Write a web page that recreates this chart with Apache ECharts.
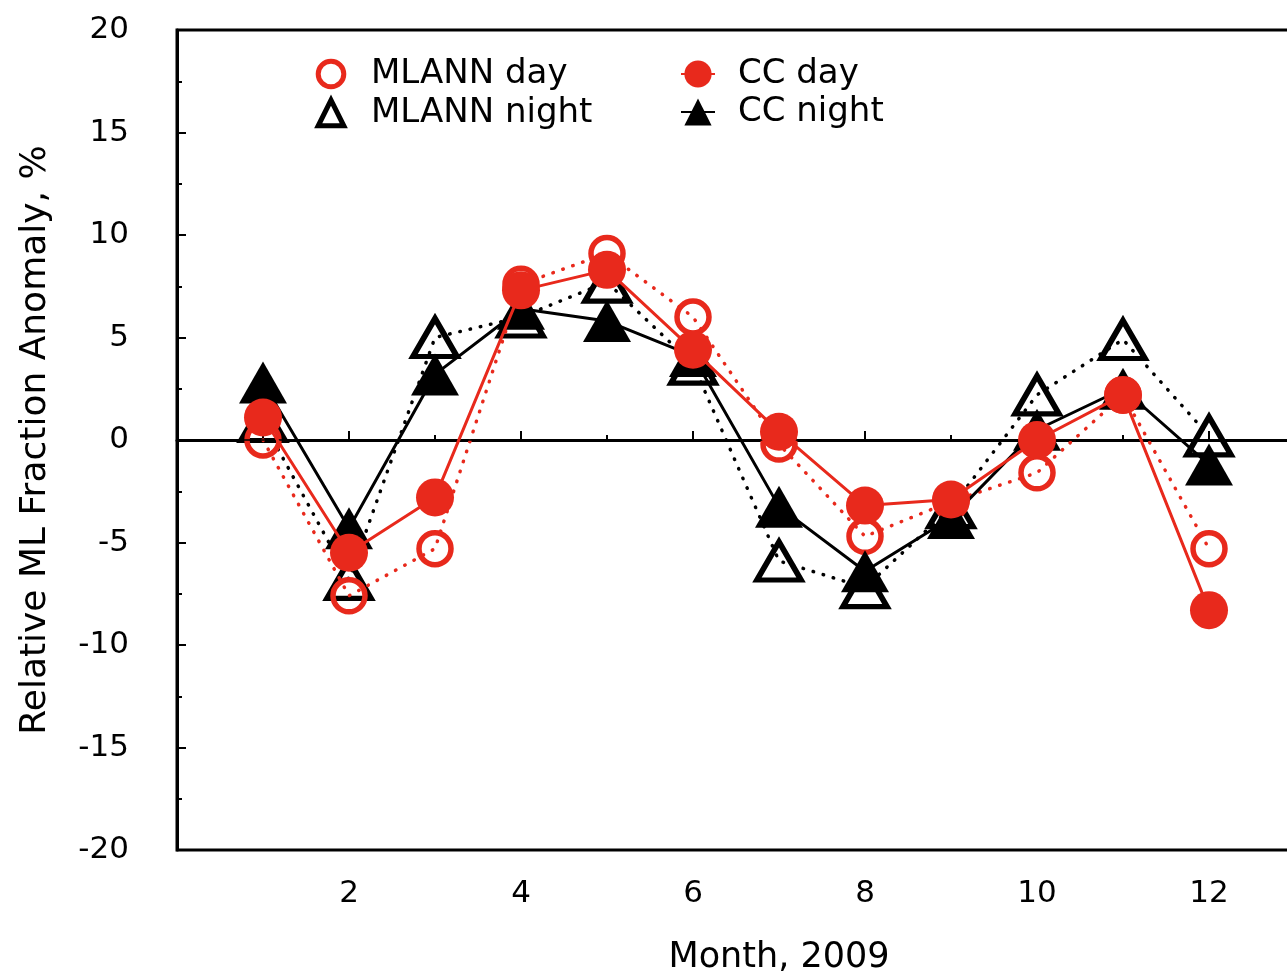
<!DOCTYPE html>
<html>
<head>
<meta charset="utf-8">
<script src="https://cdn.jsdelivr.net/npm/echarts@6/dist/echarts.min.js"></script>
<style>
  html, body { margin: 0; padding: 0; background: #fff; overflow: hidden; }
  #main { width: 1400px; height: 980px; }
</style>
</head>
<body>
<div id="main"></div>
<script>
var months = [1, 2, 3, 4, 5, 6, 7, 8, 9, 10, 11, 12];
var mlannDay = [0.0, -7.6, -5.3, 7.6, 9.1, 6.0, -0.2, -4.7, -3.0, -1.6, 2.2, -5.3];
var ccDay = [1.1, -5.5, -2.8, 7.3, 8.3, 4.4, 0.4, -3.2, -2.9, 0.0, 2.2, -8.3];
var mlannNight = [0.9, -6.8, 5.0, 6.0, 7.7, 3.7, -5.9, -7.2, -3.3, 2.2, 4.9, 0.2];
var ccNight = [2.8, -4.3, 3.2, 6.4, 5.8, 4.1, -3.25, -6.4, -3.8, 0.5, 2.5, -1.2];

var RED = '#e8291c';
var FONT = 'DejaVu Sans';

function pairs(vals) {
    return months.map(function (m, i) { return [m, vals[i]]; });
}

// 基于准备好的dom，初始化echarts实例
var myChart = echarts.init(document.getElementById('main'));

var dotted = { width: 3.5, type: [0.5, 10], cap: 'round' };

var option = {
    backgroundColor: '#fff',
    animation: false,
    textStyle: { fontFamily: FONT, color: '#000' },
    // plot area runs past the right edge of the 1287px window, like the cropped original
    grid: {
        left: 177, top: 30, bottom: 127, right: 19,
        show: true, borderColor: '#000', borderWidth: 3, backgroundColor: 'transparent'
    },
    legend: [
        {
            left: 295, top: 57, orient: 'vertical', padding: 0,
            itemWidth: 70, itemHeight: 32, itemGap: 5,
            textStyle: { fontFamily: FONT, fontSize: 34, color: '#000', lineHeight: 34 },
            itemStyle: { borderWidth: 5 },
            data: [
                { name: 'MLANN day', lineStyle: { opacity: 0 } },
                { name: 'MLANN night', lineStyle: { opacity: 0 } }
            ]
        },
        {
            left: 680, top: 57, orient: 'vertical', padding: 0,
            itemWidth: 34, itemHeight: 34, itemGap: 4,
            textStyle: { fontFamily: FONT, fontSize: 34, color: '#000', lineHeight: 34, padding: [0, 0, 0, 18] },
            data: ['CC day', 'CC night']
        }
    ],
    xAxis: {
        type: 'value', min: 0, max: 14, interval: 2,
        name: 'Month, 2009', nameLocation: 'middle', nameGap: 90,
        nameTextStyle: { fontFamily: FONT, fontSize: 35, color: '#000' },
        axisLine: { lineStyle: { color: '#000', width: 3 } },
        axisTick: { inside: true, length: 9, lineStyle: { color: '#000', width: 2 } },
        minorTick: { show: true, splitNumber: 2, length: 5, lineStyle: { color: '#000', width: 2 } },
        splitLine: { show: false },
        axisLabel: {
            fontFamily: FONT, fontSize: 31, color: '#000', margin: 28,
            formatter: function (v) { return (v > 0 && v < 13) ? String(v) : ''; }
        }
    },
    yAxis: {
        type: 'value', min: -20, max: 20, interval: 5,
        name: 'Relative ML Fraction Anomaly, %', nameLocation: 'middle', nameGap: 123,
        nameTextStyle: { fontFamily: FONT, fontSize: 36, color: '#000' },
        axisLine: { lineStyle: { color: '#000', width: 3 } },
        axisTick: { inside: true, length: 9, lineStyle: { color: '#000', width: 2 } },
        minorTick: { show: true, splitNumber: 2, length: 5, lineStyle: { color: '#000', width: 2 } },
        splitLine: { show: false },
        axisLabel: { fontFamily: FONT, fontSize: 31, color: '#000', margin: 48 }
    },
    series: [
        {
            name: 'MLANN night', type: 'line', data: pairs(mlannNight),
            symbol: 'triangle', symbolSize: [44, 38],
            itemStyle: { color: 'rgba(0,0,0,0)', borderColor: '#000', borderWidth: 5.5 },
            lineStyle: Object.assign({ color: '#000' }, dotted),
            markLine: {
                silent: true, symbol: 'none', label: { show: false },
                lineStyle: { color: '#000', width: 1.5, type: 'solid' },
                data: [{ yAxis: 0 }]
            },
            z: 2
        },
        {
            name: 'MLANN day', type: 'line', data: pairs(mlannDay),
            symbol: 'circle', symbolSize: 32,
            itemStyle: { color: 'rgba(0,0,0,0)', borderColor: RED, borderWidth: 5.5 },
            lineStyle: Object.assign({ color: RED }, dotted),
            z: 3
        },
        {
            name: 'CC night', type: 'line', data: pairs(ccNight),
            symbol: 'triangle', symbolSize: [48, 42],
            itemStyle: { color: '#000' },
            lineStyle: { color: '#000', width: 3 },
            z: 4
        },
        {
            name: 'CC day', type: 'line', data: pairs(ccDay),
            symbol: 'circle', symbolSize: 38,
            itemStyle: { color: RED },
            lineStyle: { color: RED, width: 3 },
            z: 5
        }
    ]
};
// 使用刚指定的配置项和数据显示图表。
myChart.setOption(option);
</script>
</body>
</html>
